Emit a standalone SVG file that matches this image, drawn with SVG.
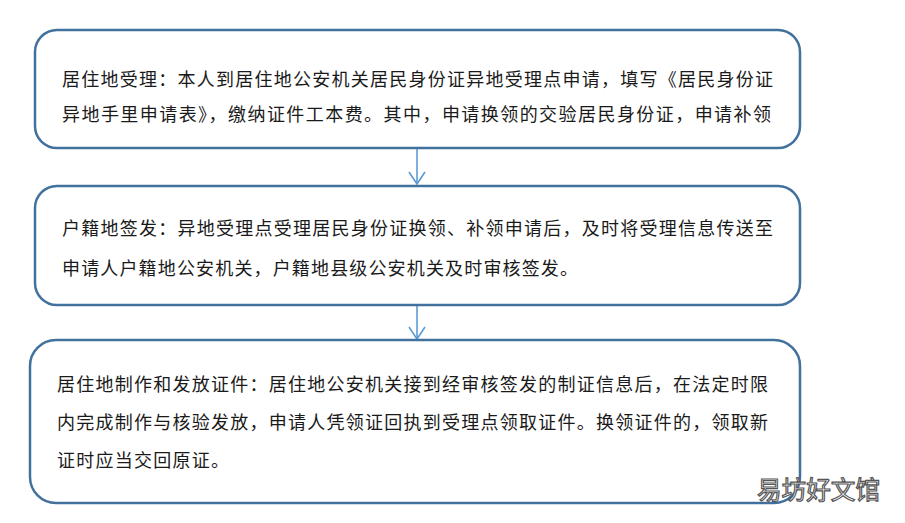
<svg xmlns="http://www.w3.org/2000/svg" width="905" height="523" viewBox="0 0 905 523">
<style>
.box{fill:#fff;stroke:#41719c;stroke-width:2.5}
.t{font-family:"Noto Sans CJK SC","Noto Sans",sans-serif;font-size:18px;fill:#1a1a1a}
.c{stroke:#5b9bd5;stroke-width:1.6;fill:none}
.wm{font-family:"Noto Sans CJK SC",sans-serif;font-size:25px;fill:#fff;stroke:#555;stroke-width:1.2}
</style>
<rect width="905" height="523" fill="#fff"/>
<g id="connectors">
<line class="c" x1="417" y1="149" x2="417" y2="184"/>
<polyline class="c" points="409,172 417,184 425,172"/>
<line class="c" x1="417" y1="306" x2="417" y2="339"/>
<polyline class="c" points="409,327 417,339 425,327"/>
</g>
<g id="node1">
<rect class="box" x="35" y="30" width="765" height="118" rx="22"/>
<text class="t" x="62" y="86" textLength="711" lengthAdjust="spacing">居住地受理：本人到居住地公安机关居民身份证异地受理点申请，填写《居民身份证</text>
<text class="t" x="62" y="121" textLength="709" lengthAdjust="spacing">异地手里申请表》，缴纳证件工本费。其中，申请换领的交验居民身份证，申请补领</text>
</g>
<g id="node2">
<rect class="box" x="35" y="186" width="765" height="119" rx="22"/>
<text class="t" x="62" y="235" textLength="711" lengthAdjust="spacing">户籍地签发：异地受理点受理居民身份证换领、补领申请后，及时将受理信息传送至</text>
<text class="t" x="62" y="275" textLength="516" lengthAdjust="spacing">申请人户籍地公安机关，户籍地县级公安机关及时审核签发。</text>
</g>
<g id="node3">
<rect class="box" x="30" y="340" width="770" height="163" rx="26"/>
<text class="t" x="57" y="391" textLength="711" lengthAdjust="spacing">居住地制作和发放证件：居住地公安机关接到经审核签发的制证信息后，在法定时限</text>
<text class="t" x="57" y="429" textLength="711" lengthAdjust="spacing">内完成制作与核验发放，申请人凭领证回执到受理点领取证件。换领证件的，领取新</text>
<text class="t" x="57" y="467" textLength="172" lengthAdjust="spacing">证时应当交回原证。</text>
</g>
<text class="wm" x="757" y="499" textLength="123" lengthAdjust="spacingAndGlyphs">易坊好文馆</text>
</svg>
